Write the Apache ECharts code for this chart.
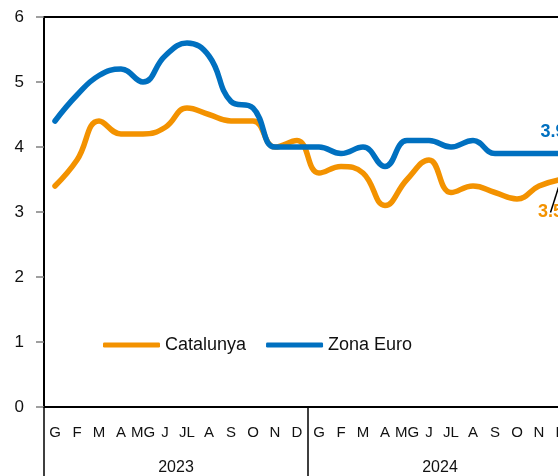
<!DOCTYPE html>
<html>
<head>
<meta charset="utf-8">
<script src="https://cdn.jsdelivr.net/npm/echarts@6/dist/echarts.min.js"></script>
<style>
html,body{margin:0;padding:0;background:#fff;}
#c{width:558px;height:476px;}
</style>
</head>
<body>
<div id="c"></div>
<script>
const months = ['G','F','M','A','MG','J','JL','A','S','O','N','D','G','F','M','A','MG','J','JL','A','S','O','N','D'];
const years = ['2023','2024'];
const catalunya = [3.4,3.8,4.4,4.2,4.2,4.3,4.6,4.5,4.4,4.4,4.0,4.1, 3.6,3.7,3.6,3.1,3.5,3.8,3.3,3.4,3.3,3.2,3.4,3.5];
const zonaEuro = [4.4,4.8,5.1,5.2,5.0,5.4,5.6,5.4,4.7,4.6,4.0,4.0, 4.0,3.9,4.0,3.7,4.1,4.1,4.0,4.1,3.9,3.9,3.9,3.9];
const yTicks = [0,1,2,3,4,5,6];

const FONT = '"Liberation Sans", Arial, sans-serif';
const ORANGE = '#F39200';
const BLUE = '#0070C0';

function withLastLabel(arr, extra) {
  return arr.map((v, i) => i === arr.length - 1 ? Object.assign({ value: v }, extra) : v);
}

const chart = echarts.init(document.getElementById('c'), null, {renderer: 'canvas'});
chart.setOption({
  animation: false,
  backgroundColor: '#fff',
  textStyle: { fontFamily: FONT },
  grid: { left: 44, top: 17, width: 528, height: 390, show: true, borderColor: '#000', borderWidth: 2, backgroundColor: 'transparent', outerBoundsMode: 'none', containLabel: false },
  legend: {
    data: ['Catalunya', 'Zona Euro'],
    left: 98, top: 331,
    icon: 'roundRect',
    itemWidth: 57, itemHeight: 5, itemGap: 20,
    textStyle: { fontFamily: FONT, fontSize: 18, color: '#111' }
  },
  xAxis: [{
    type: 'category',
    data: months,
    boundaryGap: true,
    position: 'bottom',
    axisLine: { show: true, lineStyle: { color: '#000', width: 2 } },
    axisTick: { show: false },
    axisLabel: { interval: 0, margin: 18, fontFamily: FONT, fontSize: 15, color: '#111' }
  }, {
    type: 'category',
    data: years,
    boundaryGap: true,
    position: 'bottom',
    axisLine: { show: false },
    axisTick: { show: true, length: 70, lineStyle: { color: '#000', width: 1.5 } },
    axisLabel: { interval: 0, margin: 53, fontFamily: FONT, fontSize: 16, color: '#111' }
  }],
  yAxis: {
    type: 'value',
    min: yTicks[0], max: yTicks[yTicks.length - 1], interval: 1,
    axisLine: { show: true, lineStyle: { color: '#000', width: 2 } },
    axisTick: { show: true, length: 8, lineStyle: { color: '#808080', width: 1.5 } },
    splitLine: { show: false },
    axisLabel: { margin: 20, fontFamily: FONT, fontSize: 17, color: '#111' }
  },
  series: [{
    name: 'Catalunya',
    type: 'line',
    smooth: 0.45,
    symbol: 'circle',
    symbolSize: 0,
    showSymbol: true,
    lineStyle: { color: ORANGE, width: 5.5, cap: 'round' },
    itemStyle: { color: ORANGE },
    z: 3,
    data: withLastLabel(catalunya, {
      label: { show: true, position: 'bottom', distance: 0, offset: [-10.5, 24], fontFamily: FONT, fontSize: 18, fontWeight: 'bold', color: ORANGE },
      labelLine: { show: true, lineStyle: { color: '#000', width: 1.5 } }
    })
  }, {
    name: 'Zona Euro',
    type: 'line',
    smooth: 0.45,
    symbol: 'circle',
    symbolSize: 0,
    showSymbol: true,
    lineStyle: { color: BLUE, width: 5.5, cap: 'round' },
    itemStyle: { color: BLUE },
    z: 4,
    data: withLastLabel(zonaEuro, {
      label: { show: true, position: 'top', distance: 0, offset: [-8, -12], fontFamily: FONT, fontSize: 18, fontWeight: 'bold', color: BLUE }
    })
  }]
});
</script>
</body>
</html>
